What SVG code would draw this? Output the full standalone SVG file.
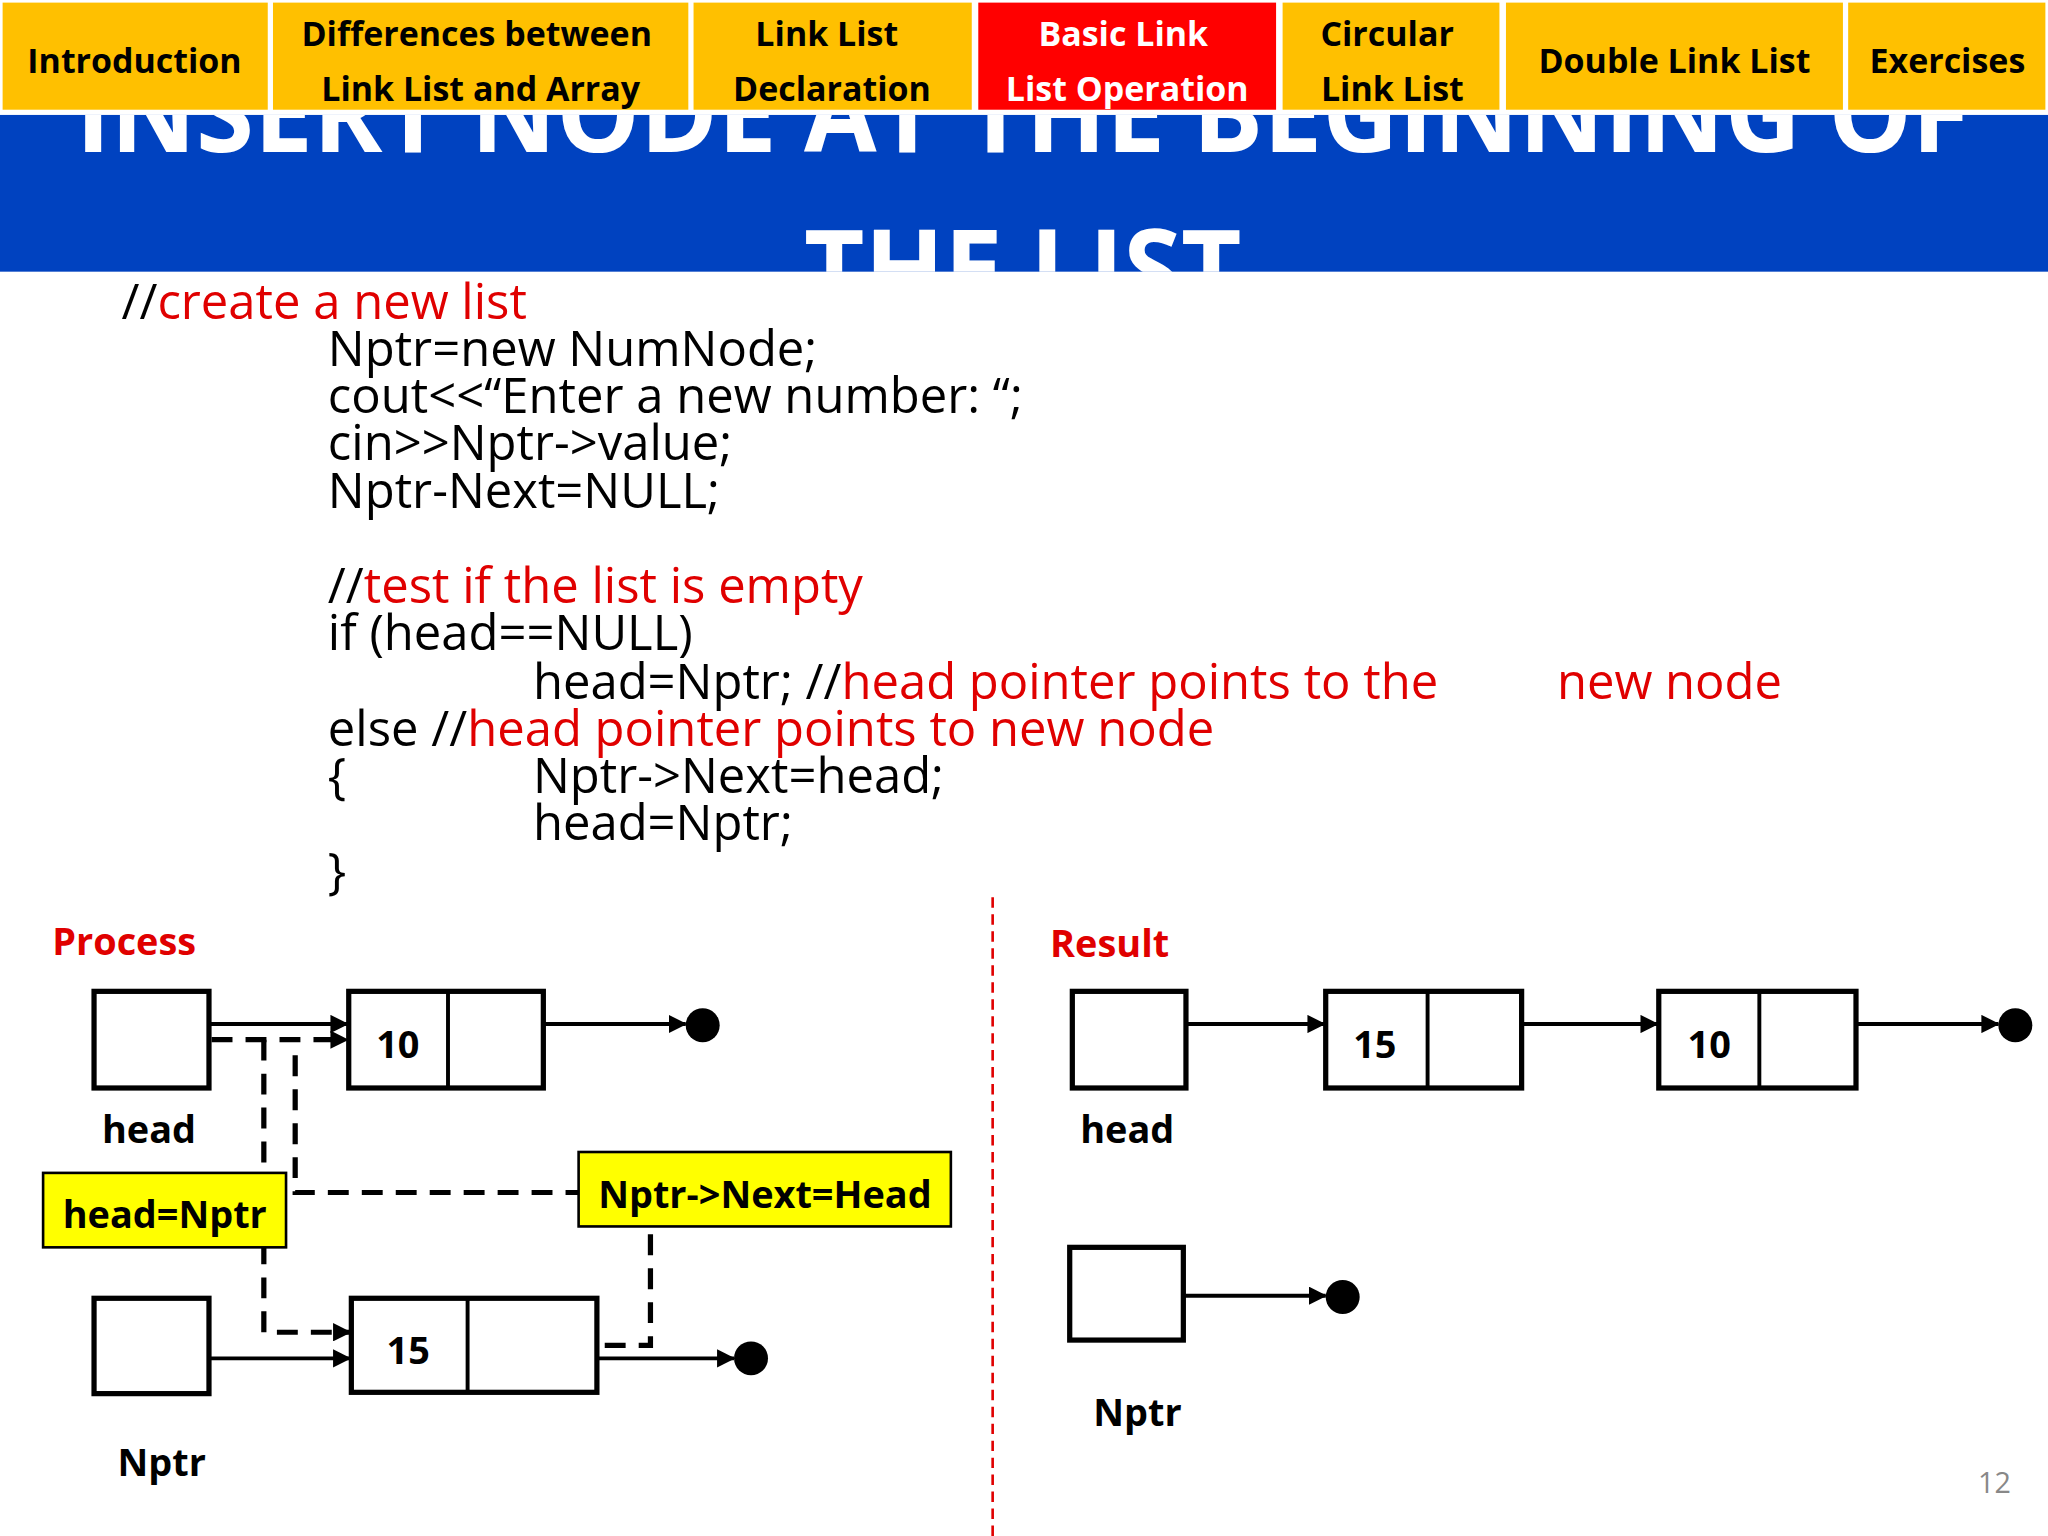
<svg xmlns="http://www.w3.org/2000/svg" width="2048" height="1536" viewBox="0 0 2048 1536">
<style>
.nav{font-family:"Open Sans","Liberation Sans",sans-serif;font-weight:bold;font-size:26px;text-anchor:middle}
.code{font-family:"Open Sans","Liberation Sans",sans-serif;font-size:37.5px;fill:#000}
.red{fill:#E00000}
.b{font-family:"Open Sans","Liberation Sans",sans-serif;font-weight:bold;font-size:29px}
.box{fill:#fff;stroke:#000;stroke-width:4}
.ln{stroke:#000;stroke-width:3;fill:none}
.dash{stroke:#000;stroke-width:4;fill:none;stroke-dasharray:16 10}
</style>
<defs>
<marker id="ah2" markerWidth="14" markerHeight="14" refX="13" refY="7" orient="auto" markerUnits="userSpaceOnUse"><path d="M0,0 L14,7 L0,14 z" fill="#000"/></marker>
<clipPath id="band"><rect x="0" y="88" width="1568" height="120"/></clipPath>
</defs>
<rect width="2048" height="1536" fill="#fff"/>
<g transform="scale(1.30612)">
<g id="nav">
<rect x="2" y="2" width="203" height="82" fill="#FFC000"/>
<rect x="209" y="2" width="318" height="82" fill="#FFC000"/>
<rect x="531" y="2" width="213" height="82" fill="#FFC000"/>
<rect x="749" y="2" width="228" height="82" fill="#FF0000"/>
<rect x="982" y="2" width="166" height="82" fill="#FFC000"/>
<rect x="1153" y="2" width="258" height="82" fill="#FFC000"/>
<rect x="1415" y="2" width="151" height="82" fill="#FFC000"/>
<text class="nav" x="103" y="56">Introduction</text>
<text class="nav" x="365" y="35">Differences between</text>
<text class="nav" x="368" y="77">Link List and Array</text>
<text class="nav" x="633" y="35">Link List</text>
<text class="nav" x="637" y="77">Declaration</text>
<text class="nav" x="860" y="35" fill="#fff">Basic Link</text>
<text class="nav" x="863" y="77" fill="#fff">List Operation</text>
<text class="nav" x="1062" y="35">Circular</text>
<text class="nav" x="1066" y="77">Link List</text>
<text class="nav" x="1282" y="56">Double Link List</text>
<text class="nav" x="1491" y="56">Exercises</text>
</g>
<g id="title">
<rect x="0" y="88" width="1568" height="120" fill="#0042C0"/>
<g clip-path="url(#band)" font-family="Open Sans,Liberation Sans,sans-serif" font-weight="bold" font-size="84" fill="#fff" text-anchor="middle">
<text x="783" y="116" textLength="1450" lengthAdjust="spacingAndGlyphs">INSERT NODE AT THE BEGINNING OF</text>
<text x="783" y="236" textLength="335" lengthAdjust="spacingAndGlyphs">THE LIST</text>
</g>
</g>
<g id="code" class="code">
<text x="93" y="244">//<tspan class="red">create a new list</tspan></text>
<text x="251" y="280">Nptr=new NumNode;</text>
<text x="251" y="316">cout&lt;&lt;“Enter a new number: “;</text>
<text x="251" y="352">cin&gt;&gt;Nptr-&gt;value;</text>
<text x="251" y="389">Nptr-Next=NULL;</text>
<text x="251" y="462">//<tspan class="red">test if the list is empty</tspan></text>
<text x="251" y="498">if (head==NULL)</text>
<text x="408" y="535">head=Nptr; //<tspan class="red">head pointer points to the</tspan></text>
<text x="1192" y="535" class="red">new node</text>
<text x="251" y="571">else //<tspan class="red">head pointer points to new node</tspan></text>
<text x="251" y="607">{</text>
<text x="408" y="607">Nptr-&gt;Next=head;</text>
<text x="408" y="643">head=Nptr;</text>
<text x="251" y="680">}</text>
</g>
<line x1="760" y1="687" x2="760" y2="1176" stroke="#E00000" stroke-width="2" stroke-dasharray="8 5"/>
<g id="connectors">
<line class="ln" x1="160" y1="784" x2="266" y2="784" marker-end="url(#ah2)"/>
<line class="ln" x1="416" y1="784" x2="525" y2="784" marker-end="url(#ah2)"/>
<line class="ln" x1="160" y1="1040" x2="268" y2="1040" marker-end="url(#ah2)"/>
<line class="ln" x1="457" y1="1040" x2="562" y2="1040" marker-end="url(#ah2)"/>
<polyline class="dash" points="162,796 266,796" marker-end="url(#ah2)"/>
<polyline class="dash" points="202,796 202,1020 268,1020" marker-end="url(#ah2)"/>
<polyline class="dash" points="226,808 226,913 443,913"/>
<polyline class="dash" points="498,945 498,1030 457,1030"/>
<line class="ln" x1="908" y1="784" x2="1014" y2="784" marker-end="url(#ah2)"/>
<line class="ln" x1="1165" y1="784" x2="1269" y2="784" marker-end="url(#ah2)"/>
<line class="ln" x1="1421" y1="784" x2="1530" y2="784" marker-end="url(#ah2)"/>
<line class="ln" x1="906" y1="992" x2="1015" y2="992" marker-end="url(#ah2)"/>
</g>
<g id="process">
<text class="b red" x="40" y="731" font-size="35">Process</text>
<rect class="box" x="72" y="759" width="88" height="74"/>
<text class="b" x="78" y="875">head</text>
<rect class="box" x="267" y="759" width="149" height="74"/><line class="ln" x1="343" y1="759" x2="343" y2="833" stroke-width="4"/>
<text class="b" x="288" y="810">10</text>
<rect x="33" y="898" width="186" height="57" fill="#FFFF00" stroke="#000" stroke-width="2"/>
<text class="b" x="48" y="940">head=Nptr</text>
<rect x="443" y="882" width="285" height="57" fill="#FFFF00" stroke="#000" stroke-width="2"/>
<text class="b" x="458" y="925">Nptr-&gt;Next=Head</text>
<rect class="box" x="72" y="994" width="88" height="73"/>
<rect class="box" x="269" y="994" width="188" height="72"/><line class="ln" x1="358" y1="994" x2="358" y2="1066" stroke-width="4"/>
<text class="b" x="296" y="1044">15</text>
<text class="b" x="90" y="1130">Nptr</text>
<circle cx="538" cy="785" r="13"/>
<circle cx="575" cy="1040" r="13"/>
</g>
<g id="result">
<text class="b red" x="804" y="733" font-size="35">Result</text>
<rect class="box" x="821" y="759" width="87" height="74"/>
<text class="b" x="827" y="875">head</text>
<rect class="box" x="1015" y="759" width="150" height="74"/><line class="ln" x1="1093" y1="759" x2="1093" y2="833" stroke-width="4"/>
<text class="b" x="1036" y="810">15</text>
<rect class="box" x="1270" y="759" width="151" height="74"/><line class="ln" x1="1347" y1="759" x2="1347" y2="833" stroke-width="4"/>
<text class="b" x="1292" y="810">10</text>
<circle cx="1543" cy="785" r="13"/>
<rect class="box" x="819" y="955" width="87" height="71"/>
<circle cx="1028" cy="993" r="13"/>
<text class="b" x="837" y="1092">Nptr</text>
</g>
<text x="1527" y="1143" font-family="Open Sans,Liberation Sans,sans-serif" font-size="22" fill="#888" text-anchor="middle">12</text>
</g>
</svg>
